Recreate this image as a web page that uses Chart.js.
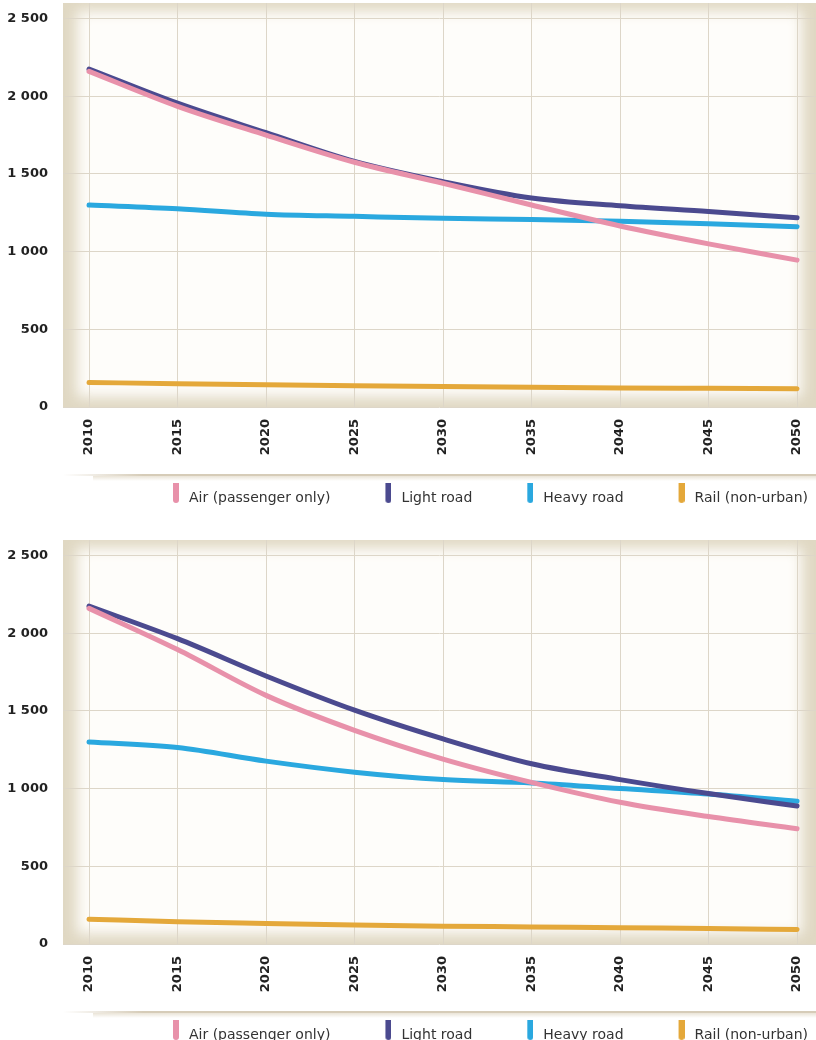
<!DOCTYPE html>
<html><head><meta charset="utf-8">
<script src="https://cdn.jsdelivr.net/npm/chart.js@4"></script>
<style>
html,body{margin:0;padding:0;background:#fff;overflow:hidden;width:816px;height:1040px}
.wrap{position:absolute;left:0;width:816px;height:515px}
canvas{display:block}
</style></head><body>
<div class="wrap" style="top:0"><canvas id="c1" width="816" height="515"></canvas></div>
<div class="wrap" style="top:537px"><canvas id="c2" width="816" height="515"></canvas></div>
<script>
// ---- data ----
const years = [2010, 2015, 2020, 2025, 2030, 2035, 2040, 2045, 2050];
const yTicks = [0, 500, 1000, 1500, 2000, 2500];
const seriesNames = ['Air (passenger only)', 'Light road', 'Heavy road', 'Rail (non-urban)'];

// top chart
const air1   = [2160, 1935, 1750, 1575, 1440, 1300, 1165, 1050, 945];
const light1 = [2175, 1955, 1765, 1580, 1450, 1345, 1295, 1258, 1218];
const heavy1 = [1300, 1276, 1241, 1227, 1214, 1207, 1196, 1180, 1160];
const rail1  = [158, 150, 143, 137, 132, 127, 123, 120, 117];

// bottom chart
const air2   = [2160, 1895, 1600, 1375, 1190, 1040, 912, 820, 742];
const light2 = [2175, 1965, 1725, 1505, 1320, 1160, 1058, 968, 888];
const heavy2 = [1300, 1265, 1177, 1106, 1058, 1036, 1000, 965, 918];
const rail2  = [160, 143, 132, 122, 115, 110, 104, 100, 93];

// ---- styling ----
const colors = ['#e891aa', '#4b4a8f', '#2aa8df', '#e4a83a'];
const FONT = "'DejaVu Sans', sans-serif";

function markerImage(color) {
  const c = document.createElement('canvas');
  c.width = 50; c.height = 44;
  const x = c.getContext('2d');
  x.fillStyle = color;
  const bx = 44, bw = 6, bh = 27, r = 3;
  x.beginPath();
  x.moveTo(bx, 0);
  x.lineTo(bx + bw, 0);
  x.lineTo(bx + bw, bh - r);
  x.arc(bx + r, bh - r, r, 0, Math.PI);
  x.closePath();
  x.fill();
  return c;
}
const markers = colors.map(markerImage);

function fmtY(v) {
  if (v >= 1000) return Math.floor(v / 1000) + ' ' + String(v % 1000).padStart(3, '0');
  return String(v);
}

function noPad(s) {
  s.paddingLeft = 0; s.paddingRight = 0; s.paddingTop = 0; s.paddingBottom = 0;
}

const panelPlugin = {
  id: 'panel',
  beforeDraw(chart) {
    const ctx = chart.ctx;
    const {left, top, right, bottom} = chart.chartArea;
    ctx.save();
    ctx.fillStyle = '#ffffff';
    ctx.fillRect(0, 0, chart.width, chart.height);
    // panel with inner vignette
    ctx.beginPath();
    ctx.rect(left, top, right - left, bottom - top);
    ctx.clip();
    ctx.fillStyle = '#e0d8c3';
    ctx.fillRect(left, top, right - left, bottom - top);
    ctx.filter = 'blur(7px)';
    ctx.fillStyle = '#fefdfa';
    ctx.fillRect(left + 14, top + 8, right - left - 28, bottom - top - 18);
    ctx.restore();
    // separator above legend
    const ly = chart.legend.top - 8;
    ctx.save();
    const gh = ctx.createLinearGradient(left, 0, left + 80, 0);
    gh.addColorStop(0, 'rgba(214,204,184,0)');
    gh.addColorStop(1, 'rgba(214,204,184,1)');
    ctx.fillStyle = gh;
    ctx.fillRect(left, ly - 1, chart.width - left, 2);
    const gv = ctx.createLinearGradient(0, ly + 1, 0, ly + 6);
    gv.addColorStop(0, 'rgba(225,216,198,0.7)');
    gv.addColorStop(1, 'rgba(225,216,198,0)');
    ctx.fillStyle = gv;
    ctx.fillRect(left + 30, ly + 1, chart.width - left - 30, 5);
    ctx.restore();
  }
};

function makeChart(id, series) {
  return new Chart(document.getElementById(id), {
    type: 'line',
    data: {
      datasets: series.map((vals, i) => ({
        label: seriesNames[i],
        data: years.map((y, k) => ({x: y, y: vals[k]})),
        borderColor: colors[i],
        backgroundColor: colors[i],
        borderWidth: 5,
        borderCapStyle: 'round',
        borderJoinStyle: 'round',
        pointRadius: 0,
        pointHoverRadius: 0,
        pointStyle: markers[i],
        tension: 0.35,
        cubicInterpolationMode: 'monotone',
        fill: false
      }))
    },
    options: {
      responsive: false,
      animation: false,
      devicePixelRatio: 1,
      layout: {padding: {top: 3, right: 0, bottom: 0, left: 0}},
      plugins: {
        tooltip: {enabled: false},
        legend: {
          position: 'bottom',
          align: 'end',
          labels: {
            usePointStyle: true,
            pointStyleWidth: 56,
            padding: 8,
            color: '#333',
            font: {family: FONT, size: 14}
          }
        }
      },
      scales: {
        x: {
          type: 'linear',
          min: 2008.53,
          max: 2051.07,
          afterBuildTicks: s => { s.ticks = years.map(v => ({value: v})); },
          afterFit: s => { s.height = 76; noPad(s); },
          grid: {color: '#ddd6c8', lineWidth: 1, drawTicks: false},
          border: {display: false},
          ticks: {
            autoSkip: false,
            minRotation: 90,
            maxRotation: 90,
            padding: 12,
            color: '#222',
            font: {family: FONT, size: 13, weight: 'bold'},
            callback: v => String(v)
          }
        },
        y: {
          min: 0,
          max: 2600,
          afterBuildTicks: s => { s.ticks = yTicks.map(v => ({value: v})); },
          afterFit: s => { s.width = 63; noPad(s); },
          grid: {color: '#ddd6c8', lineWidth: 1, drawTicks: false},
          border: {display: false},
          ticks: {
            padding: 15,
            color: '#222',
            font: {family: FONT, size: 13, weight: 'bold'},
            callback: v => fmtY(v)
          }
        }
      }
    },
    plugins: [panelPlugin]
  });
}

makeChart('c1', [air1, light1, heavy1, rail1]);
makeChart('c2', [air2, light2, heavy2, rail2]);
</script>
</body></html>
